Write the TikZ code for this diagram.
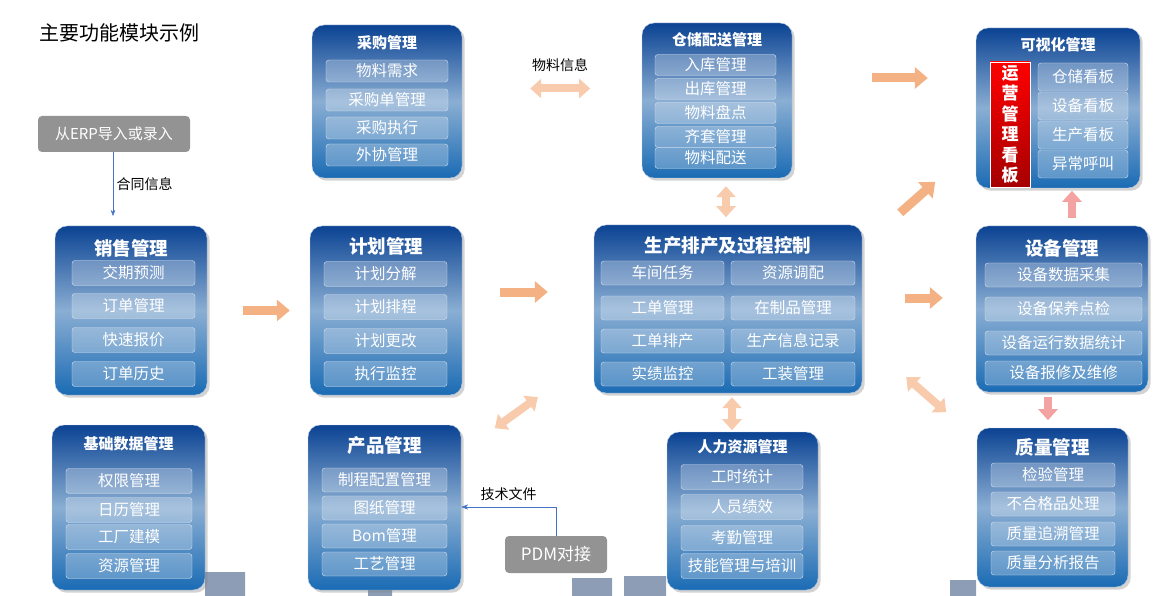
\documentclass[tikz,border=0pt]{standalone}
\usepackage{fontspec}
\setmainfont{Noto Sans CJK SC}
\usetikzlibrary{arrows.meta,shadows,positioning}
\definecolor{boxtop}{HTML}{0B4393}
\definecolor{boxmid}{HTML}{8AAED3}
\definecolor{boxbot}{HTML}{1A6BB4}
\definecolor{orangearr}{HTML}{F4B183}
\definecolor{lightarr}{HTML}{F8CBAD}
\definecolor{pinkarr}{HTML}{F4A3A3}
\definecolor{linkblue}{HTML}{4472C4}
\definecolor{bldg}{HTML}{8E9DB6}
\tikzset{
    modbox/.style={rectangle, rounded corners=12pt, top color=boxtop, bottom color=boxbot,
        middle color=boxmid, draw=white!70!boxtop, drop shadow={opacity=0.35}},
    modtitle/.style={text=white, font=\fontsize{18.5}{20}\selectfont\bfseries},
    smalltitle/.style={text=white, font=\fontsize{15}{17}\selectfont\bfseries},
    item/.style={rectangle, rounded corners=3pt, draw=white!85!boxtop, fill=white, fill opacity=0.25,
        text opacity=1, text=white, inner sep=0pt, font=\fontsize{15.5}{17}\selectfont},
    graybox/.style={rectangle, rounded corners=4pt, fill=gray!85, text=white, inner sep=0pt,
        font=\fontsize{15}{17}\selectfont},
    bigarrow/.style={draw=orangearr, line width=9pt, -{Triangle[length=13pt,width=21pt]}},
    dblarrow/.style={draw=lightarr, line width=8pt, {Triangle[length=11pt,width=19pt]}-{Triangle[length=11pt,width=19pt]}},
    note/.style={font=\fontsize{14}{16}\selectfont}
}
\begin{document}
\begin{tikzpicture}[x=1pt, y=-1pt]
\useasboundingbox (0,0) rectangle (1165,596);
% buildings in the back
\fill[bldg] (205,572) rectangle (245,596) (368,580) rectangle (392,596)
    (572,578) rectangle (612,596) (624,576) rectangle (666,596) (950,580) rectangle (976,596);

\node[anchor=west, font=\fontsize{20}{22}\selectfont] (title) at (36,33) {主要功能模块示例};

% purchasing
\node[modbox, minimum width=150pt, minimum height=153pt] (cg) at (387,101.5) {};
\node[smalltitle] (cgt) at (387,43) {采购管理};
\foreach \t/\y [count=\i] in {物料需求/71, 采购单管理/100, 采购执行/128, 外协管理/155}
    \node[item, minimum width=122pt, minimum height=22pt] (cg\i) at (387,\y) {\t};

% warehouse
\node[modbox, minimum width=150pt, minimum height=155pt] (cc) at (717,100.5) {};
\node[smalltitle] (cct) at (717,40) {仓储配送管理};
\foreach \t/\y [count=\i] in {入库管理/65, 出库管理/89, 物料盘点/113, 齐套管理/137, 物料配送/158}
    \node[item, minimum width=121pt, minimum height=21pt] (cc\i) at (715.5,\y) {\t};

% visualisation
\node[modbox, minimum width=164pt, minimum height=160pt] (ks) at (1058,108) {};
\node[smalltitle] (kst) at (1058,45) {可视化管理};
\node[rectangle, draw=white, top color=red, bottom color=red!65!black, text=white,
    minimum width=40pt, minimum height=125pt, align=center,
    font=\fontsize{17}{20.5}\selectfont\bfseries] (yy) at (1010,124.5) {运\\营\\管\\理\\看\\板};
\foreach \t/\y [count=\i] in {仓储看板/77, 设备看板/106, 生产看板/135, 异常呼叫/164}
    \node[item, minimum width=90pt, minimum height=28pt] (ks\i) at (1083,\y) {\t};

% sales
\node[modbox, minimum width=152pt, minimum height=169pt] (xs) at (131,310.5) {};
\node[modtitle] (xst) at (131,248) {销售管理};
\foreach \t/\y [count=\i] in {交期预测/273, 订单管理/306, 快速报价/340, 订单历史/374}
    \node[item, minimum width=123pt, minimum height=25pt] (xs\i) at (133.5,\y) {\t};

% planning
\node[modbox, minimum width=152pt, minimum height=169pt] (jh) at (386,310.5) {};
\node[modtitle] (jht) at (386,246) {计划管理};
\foreach \t/\y [count=\i] in {计划分解/274, 计划排程/307, 计划更改/341, 执行监控/374}
    \node[item, minimum width=123pt, minimum height=25pt] (jh\i) at (385.5,\y) {\t};

% production
\node[modbox, minimum width=268pt, minimum height=168pt] (sc) at (728,309) {};
\node[modtitle] (sct) at (728,246) {生产排产及过程控制};
\foreach \t/\y [count=\i] in {车间任务/273, 工单管理/308, 工单排产/341, 实绩监控/374}
    \node[item, minimum width=123pt, minimum height=24pt] (scl\i) at (662.5,\y) {\t};
\foreach \t/\y [count=\i] in {资源调配/273, 在制品管理/308, 生产信息记录/341, 工装管理/374}
    \node[item, minimum width=124pt, minimum height=24pt] (scr\i) at (793,\y) {\t};

% equipment
\node[modbox, minimum width=172pt, minimum height=166pt] (sb) at (1062,309) {};
\node[modtitle] (sbt) at (1062,248) {设备管理};
\foreach \t/\y [count=\i] in {设备数据采集/275, 设备保养点检/309, 设备运行数据统计/343, 设备报修及维修/373}
    \node[item, minimum width=157pt, minimum height=24pt] (sb\i) at (1063.5,\y) {\t};

% base data
\node[modbox, minimum width=153pt, minimum height=165pt] (jc) at (128.5,507.5) {};
\node[smalltitle] (jct) at (128.5,444) {基础数据管理};
\foreach \t/\y [count=\i] in {权限管理/481, 日历管理/510, 工厂建模/537, 资源管理/566}
    \node[item, minimum width=126pt, minimum height=25pt] (jc\i) at (129,\y) {\t};

% product
\node[modbox, minimum width=153pt, minimum height=165pt] (cp) at (384.5,507.5) {};
\node[modtitle] (cpt) at (384.5,446) {产品管理};
\foreach \t/\y [count=\i] in {制程配置管理/480, 图纸管理/508, Bom管理/536, 工艺管理/564}
    \node[item, minimum width=125pt, minimum height=24pt] (cp\i) at (384.5,\y) {\t};

% human resources
\node[modbox, minimum width=151pt, minimum height=158pt] (rl) at (742.5,511) {};
\node[smalltitle] (rlt) at (742.5,447) {人力资源管理};
\foreach \t/\y [count=\i] in {工时统计/477, 人员绩效/507, 考勤管理/538, 技能管理与培训/566}
    \node[item, minimum width=122pt, minimum height=25pt] (rl\i) at (742,\y) {\t};

% quality
\node[modbox, minimum width=151pt, minimum height=159pt] (zl) at (1052.5,507.5) {};
\node[modtitle] (zlt) at (1052.5,447) {质量管理};
\foreach \t/\y [count=\i] in {检验管理/475, 不合格品处理/504, 质量追溯管理/534, 质量分析报告/563}
    \node[item, minimum width=124pt, minimum height=24pt] (zl\i) at (1053,\y) {\t};

% gray sources
\node[graybox, minimum width=152pt, minimum height=36pt] (erp) at (114,134) {从ERP导入或录入};
\node[graybox, minimum width=102pt, minimum height=37pt, font=\fontsize{17}{19}\selectfont] (pdm) at (556,554.5) {PDM对接};
\coordinate (erpend) at (113,216);
\draw[linkblue, -{Stealth[length=6pt]}] (erp.south -| erpend) -- (erpend)
    node[midway, right, black, note] (htxx) {合同信息};
\draw[linkblue, -{Stealth[length=7pt]}] (pdm.north) |- (cp.east |- 0,507)
    node[pos=0.75, above=3pt, black, note] (jswj) {技术文件};

% flow arrows
\draw[bigarrow, shorten <=36pt, shorten >=20pt] (xs.east) -- (jh.west);
\draw[bigarrow, shorten <=38pt, shorten >=46pt] (jh.east |- 0,292) -- (sc.west |- 0,292);
\draw[bigarrow, shorten <=43pt, shorten >=33pt] (sc.east |- 0,298) -- (sb.west |- 0,298);
\draw[bigarrow, shorten <=80pt, shorten >=48pt] (cc.east |- 0,78) -- (ks.west |- 0,78);
\draw[bigarrow] (sc.north east) ++(38,-12) coordinate (d1) -- ++(35,-31) coordinate (d2);
\draw[dblarrow] (cc.south -| 726,0) ++(0,8) -- ++(0,31);
\draw[dblarrow] (sc.south -| 732,0) ++(0,4) -- ++(0,33);
\draw[dblarrow] (sc.south east) ++(44,-16) -- ++(40,35);
\draw[dblarrow] (sc.south west) ++(-56,4) -- ++(-43,31);
\draw[dblarrow] (cg.east) ++(68,-13) coordinate (wl) -- ++(60,0)
    node[midway, above=10pt, black, note] (wlxx) {物料信息};
\draw[draw=pinkarr, line width=8pt, -{Triangle[length=11pt,width=19pt]}] (sb.north -| 1072,0) ++(0,-8) -- ++(0,-27);
\draw[draw=pinkarr, line width=8pt, -{Triangle[length=11pt,width=19pt]}] (sb.south -| 1048,0) ++(0,5) -- ++(0,23);
\end{tikzpicture}
\end{document}
